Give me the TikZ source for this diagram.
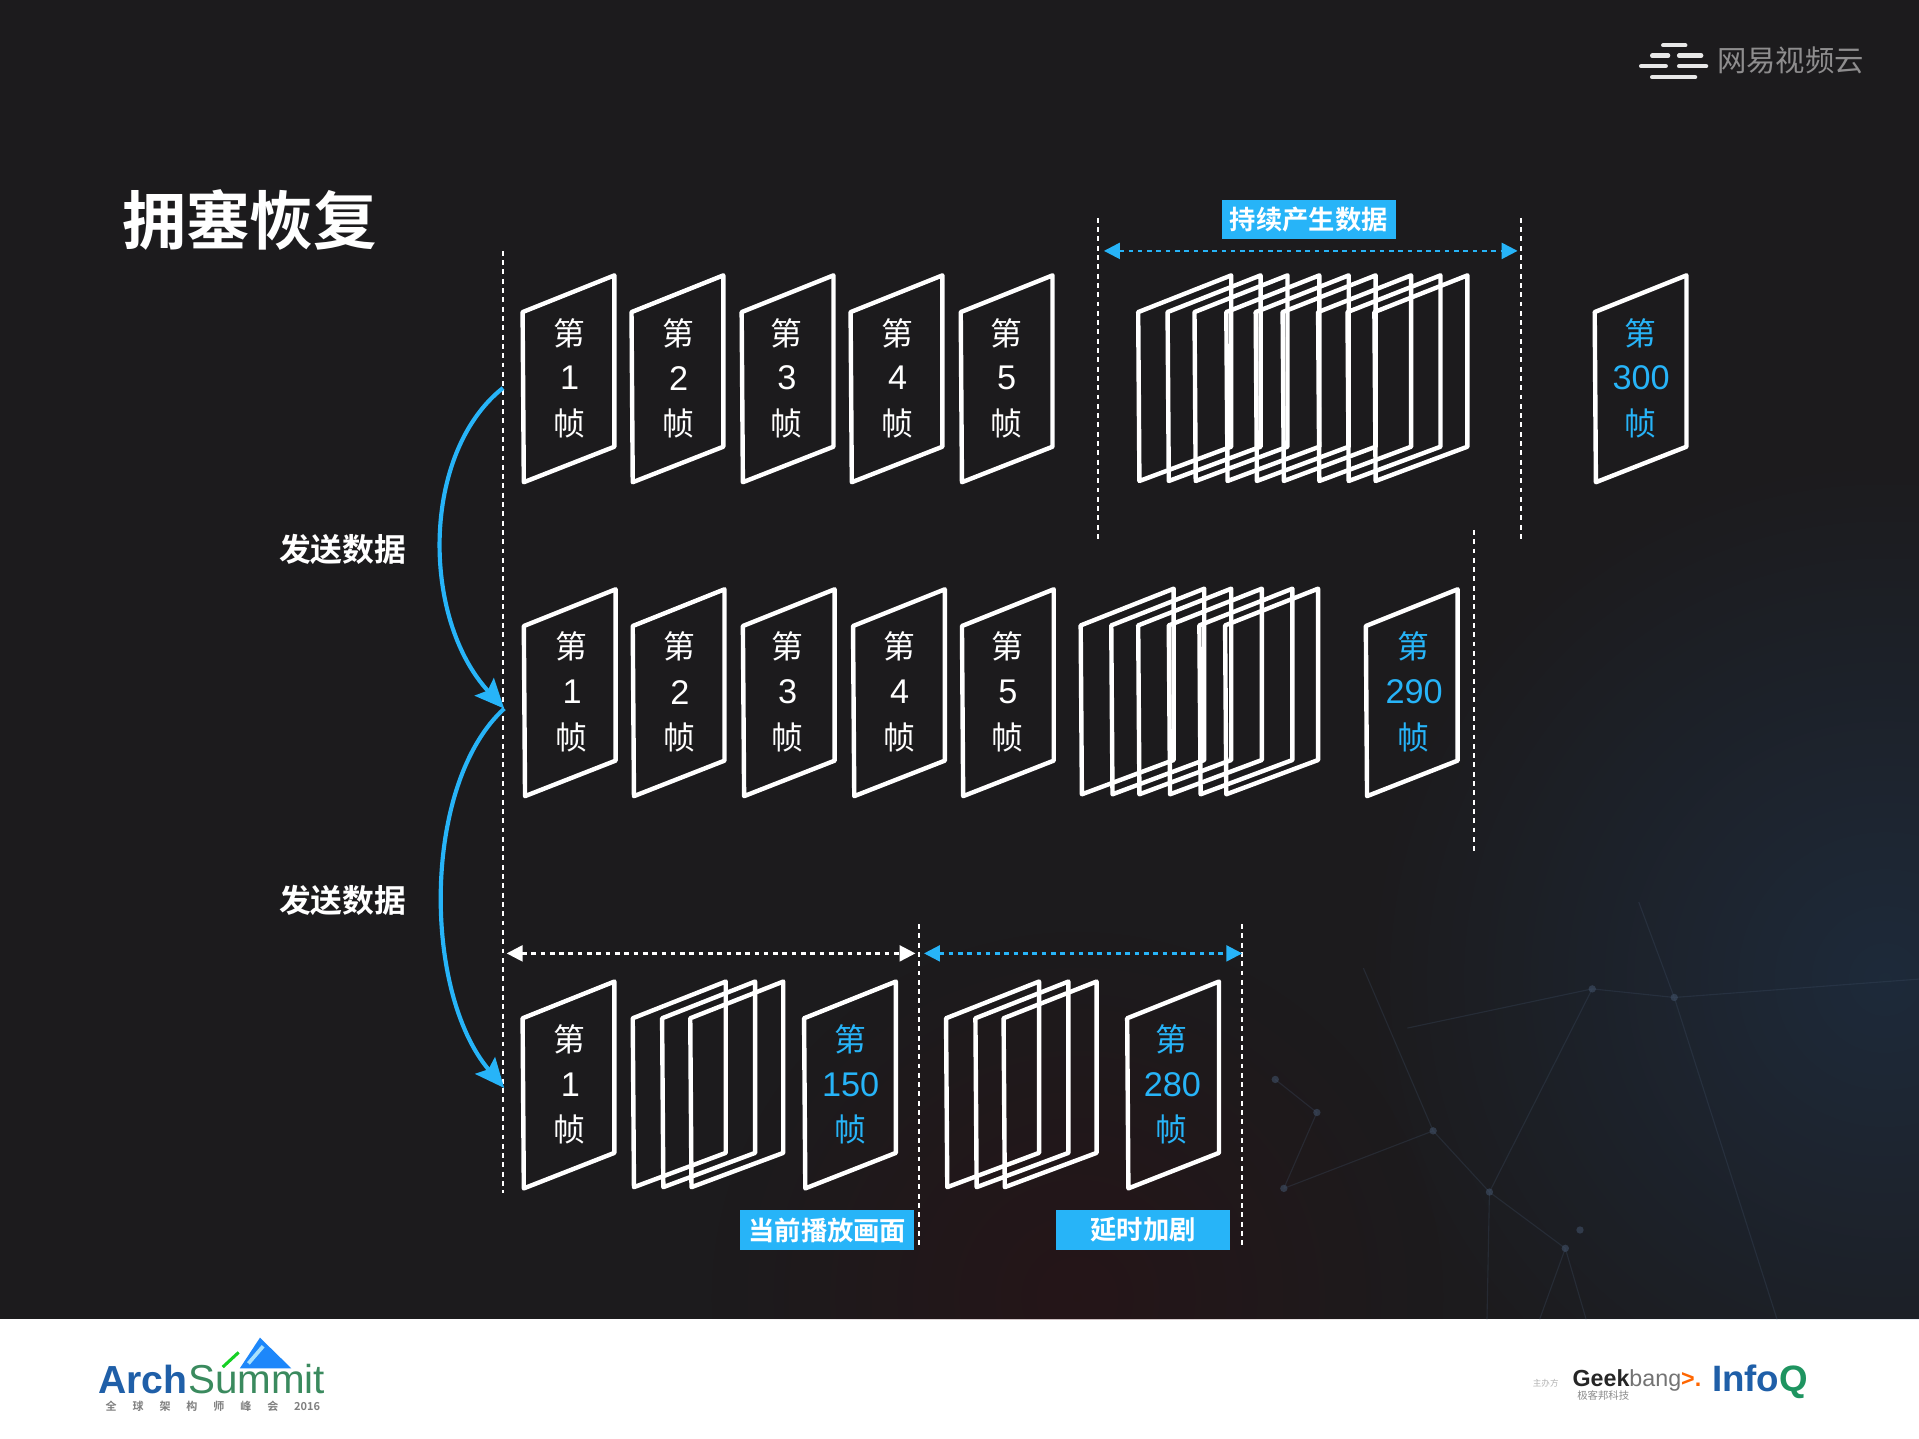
\documentclass[tikz,border=0pt]{standalone}
\usepackage{fontspec}
\usetikzlibrary{arrows.meta,fadings}
\setmainfont{Noto Sans CJK SC}[BoldFont={Noto Sans CJK SC Bold}]
\newfontfamily\latin{Liberation Sans}
\definecolor{nenToi}{HTML}{1C1B1D}
\definecolor{xanhSang}{HTML}{27B4F8}
\definecolor{nenXanh}{HTML}{235185}
\definecolor{nenDo}{HTML}{3C060B}
\definecolor{luoi}{HTML}{3F4F66}
\definecolor{xanhArch}{HTML}{1F5FA8}
\definecolor{lucArch}{HTML}{3A8A5E}
\definecolor{lucQ}{HTML}{1E9460}
\tikzfading[name=mo, inner color=transparent!72, outer color=transparent!100]
\tikzset{
  khung/.style={draw=white, line width=3.6pt, line join=round, fill=none},
  ranh/.style={draw=white, line width=2pt, dash pattern=on 4pt off 3.6pt},
  doiXanh/.style={draw=xanhSang, line width=2pt, dash pattern=on 3.8pt off 3.8pt, {Triangle[length=13pt,width=13pt]}-{Triangle[length=13pt,width=13pt]}},
  doiTrang/.style={doiXanh, draw=white},
  congGui/.style={draw=xanhSang, line width=3.4pt, -{Stealth[length=24pt,width=21pt,inset=4pt]}},
  nhan/.style={fill=xanhSang, text=white, font=\bfseries\fontsize{21.5}{22}\selectfont, inner sep=0pt, minimum height=32pt},
  chu/.style={font=\fontsize{26}{26}\selectfont, inner sep=0pt},
  so/.style={font=\latin\fontsize{28}{28}\selectfont, inner sep=0pt},
  guiData/.style={text=white, font=\bfseries\fontsize{26}{26}\selectfont, inner sep=0pt}
}
% macro: khung tai (x,y), so, mau chu, tam chu x
\newcommand{\khungChu}[5]{%
  \draw[khung] (#1,#2+30)--(#1+75,#2)--(#1+75,#2+140)--(#1+1,#2+169)--cycle;
  \node[chu,text=#4] at (#5,#2+47) {第};
  \node[so,text=#4] at (#5+0.5,#2+84) {#3};
  \node[chu,text=#4] at (#5,#2+121) {帧};}
\begin{document}
\begin{tikzpicture}[x=1pt, y=-1pt]
  \useasboundingbox (0,0) rectangle (1568,1175.7);
  \fill[nenToi] (0,0) rectangle (1568,1078);
  \fill[white] (0,1078) rectangle (1568,1175.7);
  % nen mo goc duoi
  \begin{scope}
    \clip (0,0) rectangle (1568,1078);
    \fill[nenXanh, path fading=mo] (1540,800) circle (430);
    \fill[nenDo, path fading=mo] (880,1060) circle (300);
    \draw[luoi, opacity=.3, line width=.9pt]
      (1339,737)--(1368,815)--(1452,1078)
      (1049,971)--(1171,924)--(1217,974)--(1279,1020)--(1258,1078)
      (1279,1020)--(1296,1078) (1217,974)--(1215,1078)
      (1049,971)--(1076,909)--(1042,882)
      (1368,815)--(1568,800) (1368,815)--(1301,808)--(1150,840)
      (1217,974)--(1301,808) (1171,924)--(1114,791);
    \foreach \x/\y in {1368/815,1171/924,1217/974,1279/1020,1291/1005,1049/971,1076/909,1042/882,1301/808}
      \fill[luoi, opacity=.6] (\x,\y) circle (3);
  \end{scope}
  % tieu de
  \node[text=white, font=\bfseries\fontsize{52}{52}\selectfont, inner sep=0pt] (tieuDe) at (204,180) {拥塞恢复};
  % duong ranh doc
  \draw[ranh] (411,205)--(411,975);
  \draw[ranh] (897,178)--(897,441);
  \draw[ranh] (1243,178)--(1243,441);
  \draw[ranh] (1204.5,433)--(1204.5,697);
  \draw[ranh] (751,755)--(751,1020);
  \draw[ranh] (1015,755)--(1015,1020);
  % hang 1
  \foreach \x/\so/\t in {427/1/465,516/2/554,606/3/642.5,695/4/733,785/5/822} \khungChu{\x}{225}{\so}{white}{\t};
  \foreach \x in {930,954,976,1002,1026,1048,1077,1101,1123}
    \draw[khung] (\x,255)--(\x+76,225)--(\x+76,365)--(\x+1,393)--cycle;
  \khungChu{1303}{225}{300}{xanhSang}{1340.5}
  % hang 2
  \foreach \x/\so/\t in {428/1/467,517/2/555,607/3/643,697/4/734.5,786/5/823} \khungChu{\x}{481.5}{\so}{white}{\t};
  \foreach \x in {883,908,930,955,980,1001}
    \draw[khung] (\x,511)--(\x+76,481)--(\x+76,621)--(\x+1,649)--cycle;
  \khungChu{1116}{481.5}{290}{xanhSang}{1155}
  % hang 3
  \khungChu{427}{802}{1}{white}{465.5}
  \foreach \x in {517,541,564,773,797,820}
    \draw[khung] (\x,832)--(\x+76,802)--(\x+76,942)--(\x+1,970)--cycle;
  \khungChu{657}{802}{150}{xanhSang}{694.5}
  \khungChu{921}{802}{280}{xanhSang}{957.5}
  % mui ten doi
  \coordinate (a1) at (902,205); \coordinate (a2) at (1240,205);
  \coordinate (b1) at (414,779); \coordinate (b2) at (748,779);
  \coordinate (c1) at (755,779); \coordinate (c2) at (1015,779);
  \draw[doiXanh] (a1)--(a2);
  \draw[doiTrang] (b1)--(b2);
  \draw[doiXanh] (c1)--(c2);
  % nhan
  \node[nhan, minimum width=142pt] (tiepTuc) at (1069.5,179.5) {持续产生数据};
  \node[nhan, minimum width=142pt] (hienTai) at (676,1005) {当前播放画面};
  \node[nhan, minimum width=142pt] (treMuon) at (934,1005) {延时加剧};
  % cong gui du lieu
  \coordinate (g1) at (411,317); \coordinate (g2) at (412,579); \coordinate (g3) at (412,889);
  \draw[congGui] (g1) .. controls (344,370) and (344,505) .. (g2);
  \draw[congGui] (g2) .. controls (345,640) and (345,810) .. (g3);
  \node[guiData] (gui1) at (280,449) {发送数据};
  \node[guiData] (gui2) at (280,736) {发送数据};
  % logo tren phai
  \foreach \a/\b/\y in {1359/1377/37, 1350/1363/45.5, 1372/1390/45.5, 1341/1361/54, 1372/1394/54, 1350/1385/63}
    \draw[white, line width=3.6pt, line cap=round, opacity=.9] (\a,\y)--(\b,\y);
  \node[text=white!50!nenToi, font=\fontsize{24}{24}\selectfont, inner sep=0pt] (wangyi) at (1463,49) {网易视频云};
  % logo duoi trai
  \fill[xanhSang!75!blue] (196,1118)--(212.4,1093)--(238,1118)--cycle;
  \draw[white!60!xanhSang, line width=3pt] (203,1114)--(215,1100);
  \draw[green!60!lucArch, line width=2.5pt] (182,1117)--(195,1105);
  \node[text=xanhArch, font=\latin\bfseries\fontsize{32}{32}\selectfont, inner sep=0pt, anchor=base west] (arch) at (80,1138.5) {Arch};
  \node[text=lucArch, font=\latin\fontsize{33}{33}\selectfont, inner sep=0pt, anchor=base west] (summit) at (153.5,1138.5) {Summit};
  \node[text=black!50, font=\bfseries\fontsize{9}{9}\selectfont, inner sep=0pt] (hoiNghi) at (174,1149)
    {全\hspace{13pt}球\hspace{13pt}架\hspace{13pt}构\hspace{13pt}师\hspace{13pt}峰\hspace{13pt}会\hspace{13pt}2016};
  % logo duoi phai
  \node[text=black!30, font=\fontsize{7}{7}\selectfont, inner sep=0pt] (zhuban) at (1263,1130) {主办方};
  \node[text=black!55, font=\latin\fontsize{19}{19}\selectfont, inner sep=0pt] (geek) at (1337.5,1128)
    {\textcolor{black!85}{\bfseries Geek}bang\textcolor{orange!80!red}{\bfseries >.}};
  \node[text=black!45, font=\fontsize{8.5}{9}\selectfont, inner sep=0pt] (jike) at (1310,1140) {极客邦科技};
  \node[text=xanhArch, font=\latin\bfseries\fontsize{30}{30}\selectfont, inner sep=0pt] (infoq) at (1438,1129)
    {Info\textcolor{lucQ}{Q}};
\end{tikzpicture}
\end{document}
